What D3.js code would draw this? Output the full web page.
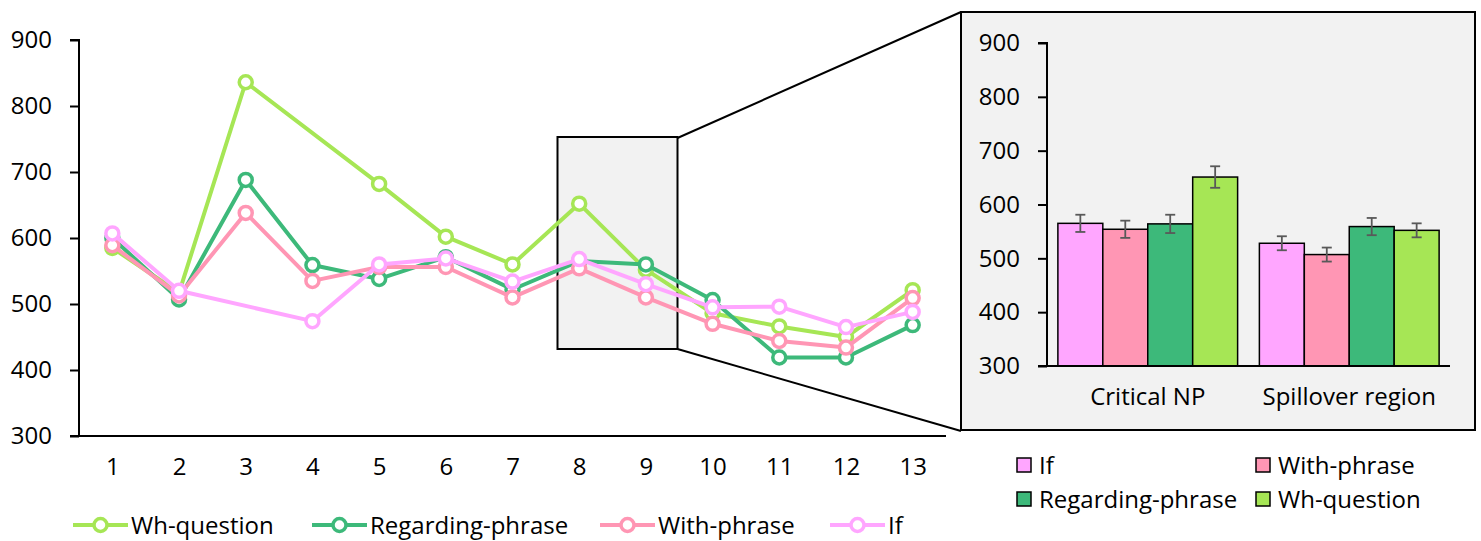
<!DOCTYPE html>
<html>
<head>
<meta charset="utf-8">
<script src="https://cdn.jsdelivr.net/npm/d3@7"></script>
<style>
  body { margin: 0; background: #fff; }
  svg { display: block; font-family: "Open Sans", sans-serif; }
</style>
</head>
<body>
<svg width="1481" height="541"></svg>
<script>
// word positions
const positions = [1, 2, 3, 4, 5, 6, 7, 8, 9, 10, 11, 12, 13]
const seriesNames = ['Wh-question', 'Regarding-phrase', 'With-phrase', 'If']
const whQuestion = [585, 517, 836, null, 682, 602, 560, 652, 552, 486, 466, 450, 521]
const regarding = [600, 507, 688, 559, 538, 571, 522, 565, 560, 506, 419, 419, 468]
const withPhrase = [589, 513, 638, 535, 556, 556, 510, 554, 510, 470, 444, 434, 509]
const ifLine = [607, 520, null, 474, 560, 569, 534, 568, 530, 495, 496, 465, 488]
const yTicks = [300, 400, 500, 600, 700, 800, 900]

// zoomed region bars
const regions = ['Critical NP', 'Spillover region']
const barNames = ['If', 'With-phrase', 'Regarding-phrase', 'Wh-question']
const barMeans = [[565, 554, 564, 651], [528, 507, 559, 552]]
const barErrors = [[16, 16, 17, 20], [13, 13, 16, 13]]

const colors = {
  'Wh-question': '#a6e655',
  'Regarding-phrase': '#3db97a',
  'With-phrase': '#ff96b4',
  'If': '#ffa6ff'
}
const fs = 24

const svg = d3.select('svg')

// ---------- line chart ----------
const x = d3.scalePoint().domain(positions).range([79, 946]).padding(0.5)
const y = d3.scaleLinear().domain([300, 900]).range([436, 40])

// highlight box (behind lines)
svg.append('rect')
  .attr('x', 557.5).attr('y', 137).attr('width', 120).attr('height', 212)
  .attr('fill', '#f2f2f2').attr('stroke', '#000').attr('stroke-width', 2)

// connector lines
svg.append('line').attr('x1', 677.5).attr('y1', 138).attr('x2', 961).attr('y2', 12)
  .attr('stroke', '#000').attr('stroke-width', 2)
svg.append('line').attr('x1', 677.5).attr('y1', 349).attr('x2', 961).attr('y2', 431)
  .attr('stroke', '#000').attr('stroke-width', 2)

const yAxis = svg.append('g').attr('transform', 'translate(79,0)')
  .call(d3.axisLeft(y).tickValues(yTicks).tickSize(9).tickPadding(18))
yAxis.select('.domain').attr('stroke', '#000').attr('stroke-width', 2).attr('d', 'M-9,40H0V436')
yAxis.selectAll('.tick line').attr('stroke', '#000').attr('stroke-width', 2)
yAxis.selectAll('text').attr('font-size', fs).attr('fill', '#000').attr('font-family', 'Open Sans')

const xAxis = svg.append('g').attr('transform', 'translate(0,436)')
  .call(d3.axisBottom(x).tickSize(0).tickPadding(22))
xAxis.select('.domain').attr('stroke', '#000').attr('stroke-width', 2).attr('d', 'M70,0H946')
xAxis.selectAll('text').attr('font-size', fs).attr('fill', '#000').attr('font-family', 'Open Sans')

const lineData = [whQuestion, regarding, withPhrase, ifLine]
const line = d3.line().x(d => x(d.p)).y(d => y(d.v))

lineData.forEach((vals, i) => {
  const name = seriesNames[i]
  const pts = positions.map((p, j) => ({p: p, v: vals[j]})).filter(d => d.v != null)
  const g = svg.append('g')
  g.append('path').datum(pts).attr('d', line)
    .attr('fill', 'none').attr('stroke', colors[name]).attr('stroke-width', 4)
    .attr('stroke-linejoin', 'round')
  g.selectAll('circle').data(pts).enter().append('circle')
    .attr('cx', d => x(d.p)).attr('cy', d => y(d.v)).attr('r', 6.5)
    .attr('fill', '#fff').attr('stroke', colors[name]).attr('stroke-width', 3.5)
})

// bottom legend
const legX = [73, 312, 600, 830]
seriesNames.forEach((name, i) => {
  const g = svg.append('g').attr('transform', `translate(${legX[i]},525)`)
  g.append('line').attr('x1', 0).attr('x2', 55).attr('stroke', colors[name]).attr('stroke-width', 4)
  g.append('circle').attr('cx', 27.5).attr('r', 6.5).attr('fill', '#fff')
    .attr('stroke', colors[name]).attr('stroke-width', 3.5)
  g.append('text').attr('x', 58).attr('y', 9).attr('font-size', fs).attr('fill', '#000').text(name)
})

// ---------- inset bar chart ----------
svg.append('rect').attr('x', 961).attr('y', 12).attr('width', 514).attr('height', 418)
  .attr('fill', '#f2f2f2').attr('stroke', '#000').attr('stroke-width', 2)

const y2 = d3.scaleLinear().domain([300, 900]).range([366, 43])
const x0 = d3.scaleBand().domain(regions).range([1047, 1450])
const gp = x0.bandwidth() * 0.054
const x1 = d3.scaleBand().domain(barNames).range([gp, x0.bandwidth() - gp])

const bars = svg.append('g')
regions.forEach((r, ri) => {
  const g = bars.append('g').attr('transform', `translate(${x0(r)},0)`)
  barNames.forEach((b, bi) => {
    g.append('rect')
      .attr('x', x1(b)).attr('y', y2(barMeans[ri][bi]))
      .attr('width', x1.bandwidth()).attr('height', y2(300) - y2(barMeans[ri][bi]))
      .attr('fill', colors[b]).attr('stroke', '#000').attr('stroke-width', 1.5)
  })
  barNames.forEach((b, bi) => {
    const cx = x1(b) + x1.bandwidth() / 2
    const hi = y2(barMeans[ri][bi] + barErrors[ri][bi])
    const lo = y2(barMeans[ri][bi] - barErrors[ri][bi])
    const eb = g.append('g').attr('stroke', '#595959').attr('stroke-width', 1.8)
    eb.append('line').attr('x1', cx).attr('x2', cx).attr('y1', hi).attr('y2', lo)
    eb.append('line').attr('x1', cx - 5).attr('x2', cx + 5).attr('y1', hi).attr('y2', hi)
    eb.append('line').attr('x1', cx - 5).attr('x2', cx + 5).attr('y1', lo).attr('y2', lo)
  })
})

const y2Axis = svg.append('g').attr('transform', 'translate(1047,0)')
  .call(d3.axisLeft(y2).tickValues(yTicks).tickSize(9).tickPadding(18))
y2Axis.select('.domain').attr('stroke', '#000').attr('stroke-width', 2).attr('d', 'M-9,43H0V366')
y2Axis.selectAll('.tick line').attr('stroke', '#000').attr('stroke-width', 2)
y2Axis.selectAll('text').attr('font-size', fs).attr('fill', '#000').attr('font-family', 'Open Sans')

const x2Axis = svg.append('g').attr('transform', 'translate(0,366)')
  .call(d3.axisBottom(x0).tickSize(0).tickPadding(22))
x2Axis.select('.domain').attr('stroke', '#000').attr('stroke-width', 2).attr('d', 'M1038,0H1450')
x2Axis.selectAll('text').attr('font-size', fs).attr('fill', '#000').attr('font-family', 'Open Sans')

// right legend
const legPos = [[1017, 465], [1256, 465], [1017, 499], [1256, 499]]
barNames.forEach((name, i) => {
  const g = svg.append('g').attr('transform', `translate(${legPos[i][0]},${legPos[i][1]})`)
  g.append('rect').attr('x', 0).attr('y', -7).attr('width', 14).attr('height', 14)
    .attr('fill', colors[name]).attr('stroke', '#000').attr('stroke-width', 1.5)
  g.append('text').attr('x', 22).attr('y', 9).attr('font-size', fs).attr('fill', '#000').text(name)
})
</script>
</body>
</html>
